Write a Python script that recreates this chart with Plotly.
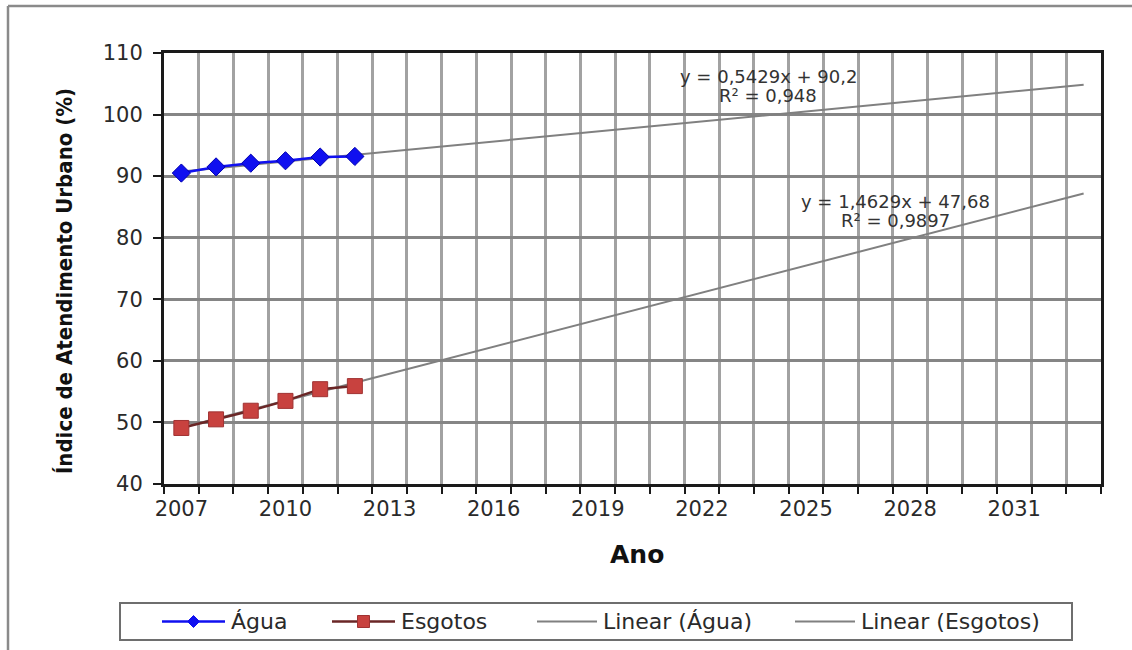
import plotly.graph_objects as go

# --- data -------------------------------------------------------------
anos = list(range(2007, 2034))                 # category axis 2007..2033
anos_obs = [2007, 2008, 2009, 2010, 2011, 2012]
agua = [90.5, 91.5, 92.1, 92.5, 93.1, 93.2]
esgotos = [49.1, 50.5, 51.9, 53.5, 55.4, 55.9]

# Excel linear trendlines (x = category index 1..27)
agua_slope, agua_icpt, agua_r2 = 0.5429, 90.2, 0.948
esg_slope, esg_icpt, esg_r2 = 1.4629, 47.68, 0.9897

tick_years = [2007, 2010, 2013, 2016, 2019, 2022, 2025, 2028, 2031]
y_ticks = [40, 50, 60, 70, 80, 90, 100, 110]

# --- layout geometry (pixels) -----------------------------------------
W, H = 1132, 650
L, R, T, B = 164, 1101, 53, 484


def px(xp):
    return (xp - L) / (R - L)


def py(yp):
    return (B - yp) / (B - T)


def fmt(v):
    return str(v).replace(".", ",")


idx = [a - anos[0] + 1 for a in anos]
agua_trend = [agua_slope * i + agua_icpt for i in idx]
esg_trend = [esg_slope * i + esg_icpt for i in idx]

TREND = "#808080"
BLUE = "#1010f0"
ESG_LINE = "#6a2626"
ESG_MK = "#c8423f"
TXT = "#2a2a2a"
FONT = "DejaVu Sans, Verdana, sans-serif"

fig = go.Figure()

fig.add_trace(go.Scatter(x=anos, y=agua_trend, mode="lines",
                         line=dict(color=TREND, width=2), name="Linear (Água)"))
fig.add_trace(go.Scatter(x=anos, y=esg_trend, mode="lines",
                         line=dict(color=TREND, width=2), name="Linear (Esgotos)"))
fig.add_trace(go.Scatter(x=anos_obs, y=agua, mode="lines+markers", name="Água",
                         line=dict(color=BLUE, width=2.5),
                         marker=dict(symbol="diamond", size=14, color=BLUE,
                                     line=dict(color="#0000b0", width=1))))
fig.add_trace(go.Scatter(x=anos_obs, y=esgotos, mode="lines+markers", name="Esgotos",
                         line=dict(color=ESG_LINE, width=2.5),
                         marker=dict(symbol="square", size=15, color=ESG_MK,
                                     line=dict(color="#a03232", width=1))))

fig.update_xaxes(
    range=[2006.5, 2033.5],
    tickmode="array", tickvals=tick_years, ticktext=[str(t) for t in tick_years],
    ticks="", showgrid=False, zeroline=False,
    showline=True, mirror=True, linecolor="#1a1a1a", linewidth=3,
    tickfont=dict(family=FONT, size=21, color=TXT),
    ticklabelstandoff=4,
    minor=dict(tickmode="linear", tick0=2006.5, dtick=1, ticks="outside",
               ticklen=7, tickwidth=2, tickcolor="#1a1a1a",
               showgrid=True, gridcolor="#a2a2a2", gridwidth=2.5),
)
fig.update_yaxes(
    range=[40, 110], tickmode="array", tickvals=y_ticks,
    ticks="outside", ticklen=8, tickwidth=2, tickcolor="#1a1a1a",
    showgrid=True, gridcolor="#858585", gridwidth=2.5, zeroline=False,
    showline=True, mirror=True, linecolor="#1a1a1a", linewidth=3,
    tickfont=dict(family=FONT, size=21, color=TXT),
    ticklabelstandoff=6,
)

annotations = [
    dict(x=px(768), y=py(76), text=f"y = {fmt(agua_slope)}x + {fmt(agua_icpt)}"),
    dict(x=px(768), y=py(95), text=f"R² = {fmt(agua_r2)}"),
    dict(x=px(895), y=py(201), text=f"y = {fmt(esg_slope)}x + {fmt(esg_icpt)}"),
    dict(x=px(895), y=py(220), text=f"R² = {fmt(esg_r2)}"),
]
for a in annotations:
    a.update(xref="paper", yref="paper", showarrow=False, xanchor="center",
             yanchor="middle", font=dict(family=FONT, size=18, color="#333"))

annotations.append(dict(x=px(637), y=py(554), xref="paper", yref="paper",
                        text="<b>Ano</b>", showarrow=False, xanchor="center", yanchor="middle",
                        font=dict(family="DejaVu Sans, sans-serif", size=25, color="#111")))
annotations.append(dict(x=px(64), y=py(281), xref="paper", yref="paper",
                        text="<b>Índice de Atendimento Urbano (%)</b>", textangle=-90,
                        showarrow=False, xanchor="center", yanchor="middle",
                        font=dict(family="DejaVu Sans Condensed, Liberation Sans Narrow, sans-serif",
                                  size=22, color="#111")))

shapes = []
# outer frame (top and left edges)
shapes.append(dict(type="line", xref="paper", yref="paper",
                   x0=px(8), x1=px(W + 5), y0=py(6), y1=py(6),
                   line=dict(color="#8a8a8a", width=2.5)))
shapes.append(dict(type="line", xref="paper", yref="paper",
                   x0=px(8), x1=px(8), y0=py(6), y1=py(H + 5),
                   line=dict(color="#8a8a8a", width=2.5)))

# legend box
shapes.append(dict(type="rect", xref="paper", yref="paper",
                   x0=px(120), x1=px(1072), y0=py(603), y1=py(640),
                   line=dict(color="#6e6e6e", width=2), fillcolor="white"))
ly = py(621.5)
legend_items = [
    ("Água", 162, 225, BLUE, 2.5, "diamond"),
    ("Esgotos", 332, 395, ESG_LINE, 2.5, "square"),
    ("Linear (Água)", 537, 597, TREND, 2, None),
    ("Linear (Esgotos)", 795, 855, TREND, 2, None),
]
for label, x0, x1, col, w, mk in legend_items:
    shapes.append(dict(type="line", xref="paper", yref="paper",
                       x0=px(x0), x1=px(x1), y0=ly, y1=ly, line=dict(color=col, width=w)))
    xm = px((x0 + x1) / 2)
    if mk == "diamond":
        shapes.append(dict(type="path", xref="paper", yref="paper",
                           xsizemode="pixel", ysizemode="pixel", xanchor=xm, yanchor=ly,
                           path="M 0,6 L 6,0 L 0,-6 L -6,0 Z",
                           fillcolor=BLUE, line=dict(color=BLUE, width=1)))
    elif mk == "square":
        shapes.append(dict(type="rect", xref="paper", yref="paper",
                           xsizemode="pixel", ysizemode="pixel", xanchor=xm, yanchor=ly,
                           x0=-6, x1=6, y0=-6, y1=6,
                           fillcolor=ESG_MK, line=dict(color="#a03232", width=1)))
    annotations.append(dict(x=px(x1 + 4), y=ly, xref="paper", yref="paper", text=label,
                            showarrow=False, xanchor="left", yanchor="middle",
                            font=dict(family=FONT, size=22, color=TXT)))

fig.update_layout(
    width=W, height=H, autosize=False,
    margin=dict(l=L, r=W - R, t=T, b=H - B, pad=0),
    paper_bgcolor="white", plot_bgcolor="white",
    showlegend=False,
    annotations=annotations, shapes=shapes,
)

fig.write_html("out.html")
